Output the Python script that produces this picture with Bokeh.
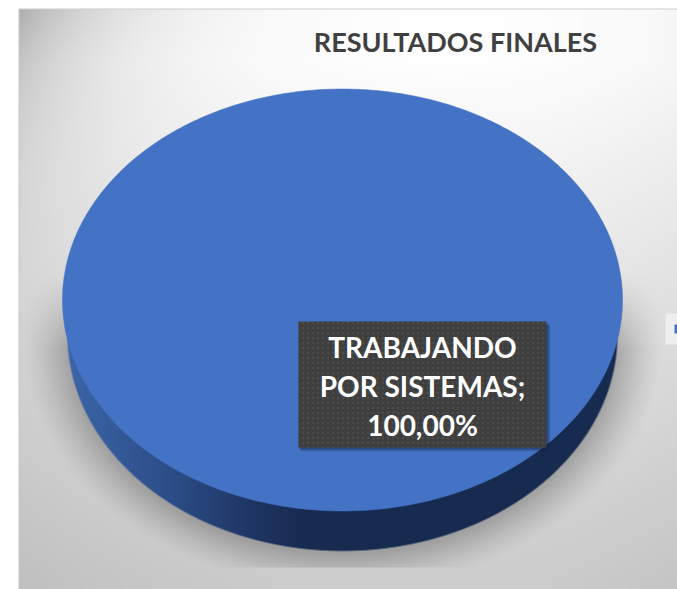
import numpy as np
from bokeh.plotting import figure
from bokeh.models import Range1d
from bokeh.core.properties import value
from bokeh.embed import file_html
from bokeh.resources import INLINE

# data
title_text = "RESULTADOS FINALES"
categories = ["TRABAJANDO POR SISTEMAS"]
shares = [100.0]
label_lines = ["TRABAJANDO", "POR SISTEMAS;", "100,00%"]
slice_colors = ["#4472C4"]

PAGE_W, PAGE_H = 677, 589
W, H = PAGE_W, PAGE_H
OX, OY = 0, 0

def Y(py):
    return PAGE_H - np.asarray(py, dtype=float)

p = figure(width=W, height=H, x_range=Range1d(OX, OX + W), y_range=Range1d(0, H),
           output_backend="svg", toolbar_location=None, min_border=0,
           outline_line_color=None, background_fill_color="white", border_fill_color="white")
p.axis.visible = False
p.grid.visible = False

# pie geometry in page pixels: top face and the (slightly narrower) lower rim
cx, cy, rx, ry = 342.0, 299.5, 280.0, 211.0
rx2, cy2, ry2 = 275.0, 334.5, 216.0

px, py = np.meshgrid(np.arange(OX, OX + W) + 0.5, np.arange(OY, OY + H) + 0.5)

# chart-area gradient
t = np.clip((py - 60) / 520.0, 0, 1)
hz = np.where(px < 430, ((px - 430) / 410.0) ** 2 * 12, ((px - 430) / 250.0) ** 2 * 8)
corner = 70 * np.exp(-(px - 18) / 90.0) * np.exp(-(py - 8) / 130.0)
g = 255 - 50 * t - hz - corner

# floor shadow: soft halo round the rim plus the two side wedges
e2 = np.sqrt(((px - cx) / rx2) ** 2 + ((py - cy2) / ry2) ** 2)
e3 = np.sqrt(((px - cx) / rx2) ** 2 + ((py - (cy2 + 3)) / ry2) ** 2)
dist = (e3 - 1) * 240
fade_in = np.clip((py - 270) / 80.0, 0, 1)
halo = np.clip(1 - dist / 40.0, 0, 1) ** 1.25 * fade_in * (py < 567)
left = 62 - (py - 290) * (17 / 120.0)
right = 622 + (py - 290) * (17 / 120.0)
inw = np.clip((px - left) / 2.5, 0, 1) * np.clip((right - px) / 2.5, 0, 1)
vert = np.clip((py - 235) / 45.0, 0, 1) * np.clip((440 - py) / 55.0, 0, 1)
wedge = inw * vert
alpha = np.maximum(halo * 0.40, wedge * 0.11)
g = g * (1 - alpha) + 90 * alpha
rgb = np.stack([g, g, g], axis=-1)

# thin chart border
rgb[:, px[0] < 19] = 200
rgb[py[:, 0] < 9, :] = 205
rgb[:, px[0] < 18] = 255
rgb[py[:, 0] < 8, :] = 255

# side wall with horizontal gradient
stops_x = [62, 90, 172, 250, 302, 622]
stops_r = [62, 56, 44, 31, 24, 23]
stops_g = [101, 96, 77, 54, 43, 43]
stops_b = [172, 160, 135, 99, 82, 80]
wall = np.stack([np.interp(px, stops_x, s) for s in (stops_r, stops_g, stops_b)], axis=-1)
edge = np.clip((1 - e2) * 245 + 0.5, 0, 1) * (py > cy)
rgb = rgb * (1 - edge[..., None]) + wall * edge[..., None]

# legend stub at the right edge
lg = (px >= 665) & (py >= 313) & (py < 344)
rgb[lg] = np.array([238, 238, 238])
key = (px >= 674) & (py >= 324) & (py < 333)
rgb[key] = np.array([68, 114, 196])

rgba = np.dstack([rgb.astype(np.uint8), np.full(px.shape, 255, dtype=np.uint8)])
rgba32 = rgba[::-1].copy().view(dtype=np.uint32).reshape(px.shape)
p.image_rgba(image=[rgba32], x=OX, y=0, dw=W, dh=H)

# pie slices from the data
total = sum(shares)
start = np.pi / 2
for share, colour in zip(shares, slice_colors):
    th = np.linspace(start, start - 2 * np.pi * share / total, 361)
    p.patch(cx + rx * np.cos(th), Y(cy + ry * np.sin(th)), fill_color=colour, line_color=colour, line_width=0.5)
    start = th[-1]

# data label box
bx0, bx1, by0, by1 = 298.0, 546.0, 321.0, 447.0
for off, a in ((4, 0.12), (3, 0.2), (2, 0.3)):
    p.quad(left=bx0 + off - 1, right=bx1 + off, top=Y(by0 + off), bottom=Y(by1 + off),
           fill_color="#14233f", fill_alpha=a, line_color=None)
p.quad(left=bx0, right=bx1, top=Y(by0), bottom=Y(by1), fill_color="#3e3e3e", line_color=None,
       hatch_pattern="dot", hatch_color="#4b4b4b", hatch_scale=5, hatch_weight=1)

label_y = [346, 385, 424]
p.text(x=[422] * 3, y=Y(label_y), text=label_lines, text_color="white",
       text_font=value("Lato"), text_font_style="bold", text_font_size="28px",
       text_align="center", text_baseline="middle")

p.text(x=[455], y=Y([41]), text=[title_text], text_color="#404040",
       text_font=value("Lato"), text_font_style="bold", text_font_size="27px",
       text_align="center", text_baseline="middle")

open("out.html", "w").write(file_html(p, INLINE))
